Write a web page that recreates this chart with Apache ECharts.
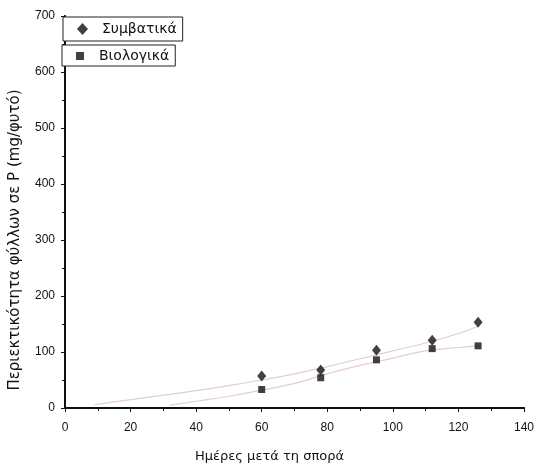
<!DOCTYPE html>
<html><head><meta charset="utf-8">
<script src="https://cdn.jsdelivr.net/npm/echarts@6/dist/echarts.min.js"></script>
<style>html,body{margin:0;padding:0;background:#fff}#c{width:537px;height:468px}</style>
</head><body><div id="c"></div>
<script>
var days = [60, 78, 95, 112, 126];
var symvatika = [57, 68, 103, 121, 153];
var viologika = [33, 54, 86, 106, 111];
var fitX1 = [9, 20, 30, 40, 50, 60, 70, 80, 90, 100, 110, 120, 126];
var fitY1 = [6, 15, 23, 31, 40, 50, 61, 74, 88, 102, 116, 133, 146];
var fitX2 = [32, 40, 50, 60, 70, 80, 90, 100, 110, 120, 126];
var fitY2 = [5, 12, 21, 32, 44, 61, 76, 89, 102, 108, 111];
var xTicks = [0, 20, 40, 60, 80, 100, 120, 140];
var yTicks = [0, 100, 200, 300, 400, 500, 600, 700];
var names = ['Συμβατικά', 'Βιολογικά'];
var xName = 'Ημέρες μετά τη σπορά';
var yName = 'Περιεκτικότητα φύλλων σε P (mg/φυτό)';

function zip(a, b) { return a.map(function (v, i) { return [v, b[i]]; }); }
var font = 'Liberation Sans, Arial, sans-serif';
var font2 = 'DejaVu Sans, sans-serif';
var chart = echarts.init(document.getElementById('c'));
chart.setOption({
  animation: false,
  textStyle: { fontFamily: font },
  grid: { left: 64, right: 11, top: 16, bottom: 59 },
  legend: [
    { data: [names[0]], left: 63, top: 17, orient: 'vertical', borderColor: '#222', borderWidth: 1, borderRadius: 0,
      padding: [5, 6, 5, 14], itemWidth: 11, itemHeight: 12, itemGap: 6,
      textStyle: { fontSize: 14, color: '#111', fontFamily: font2, padding: [0, 0, 0, 9] }, backgroundColor: '#fff' },
    { data: [names[1]], left: 62, top: 45, orient: 'vertical', borderColor: '#222', borderWidth: 1, borderRadius: 0,
      padding: [4, 6, 3, 14], itemWidth: 8, itemHeight: 8, itemGap: 6,
      textStyle: { fontSize: 14, color: '#111', fontFamily: font2, padding: [0, 0, 0, 10] }, backgroundColor: '#fff' }
  ],
  xAxis: [{
    type: 'value', min: 0, max: 140, interval: 20,
    name: xName, nameLocation: 'middle', nameGap: 42,
    nameTextStyle: { fontSize: 13, color: '#111', fontFamily: font2, padding: [0, 50, 0, 0] },
    axisLine: { lineStyle: { color: '#111', width: 2 } },
    axisTick: { show: true, length: 4, lineStyle: { color: '#111' } },
    minorTick: { show: true, splitNumber: 2, length: 3, lineStyle: { color: '#111' } },
    axisLabel: { fontSize: 12, color: '#111', margin: 14, fontFamily: font },
    splitLine: { show: false }
  }, {
    type: 'value', min: 0, max: 140, position: 'top',
    axisLine: { show: true, lineStyle: { color: '#111', width: 1.5 } },
    axisTick: { show: false }, axisLabel: { show: false }, splitLine: { show: false }
  }],
  yAxis: [{
    type: 'value', min: 0, max: 700, interval: 100,
    name: yName, nameLocation: 'middle', nameGap: 42,
    nameTextStyle: { fontSize: 15, color: '#111', fontFamily: font2, padding: [0, 56, 0, 0] },
    axisLine: { show: true, lineStyle: { color: '#111', width: 2 } },
    axisTick: { show: true, length: 4, lineStyle: { color: '#111' } },
    minorTick: { show: true, splitNumber: 2, length: 3, lineStyle: { color: '#111' } },
    axisLabel: { fontSize: 12, color: '#111', margin: 10, fontFamily: font },
    splitLine: { show: false }
  }, {
    type: 'value', min: 0, max: 700, position: 'right',
    axisLine: { show: true, lineStyle: { color: '#111', width: 1.5 } },
    axisTick: { show: false }, axisLabel: { show: false }, splitLine: { show: false }
  }],
  series: [
    { name: 'fit1', type: 'line', data: zip(fitX1, fitY1), smooth: true, showSymbol: false,
      lineStyle: { color: '#e3cdd1', width: 1.2 }, silent: true, z: 1 },
    { name: 'fit2', type: 'line', data: zip(fitX2, fitY2), smooth: true, showSymbol: false,
      lineStyle: { color: '#e3cdd1', width: 1.2 }, silent: true, z: 1 },
    { name: names[0], type: 'scatter', data: zip(days, symvatika), symbol: 'diamond', symbolSize: [9, 11],
      itemStyle: { color: '#111' }, z: 3 },
    { name: names[1], type: 'scatter', data: zip(days, viologika), symbol: 'rect', symbolSize: 7,
      itemStyle: { color: '#111' }, z: 3 }
  ]
});
</script></body></html>
